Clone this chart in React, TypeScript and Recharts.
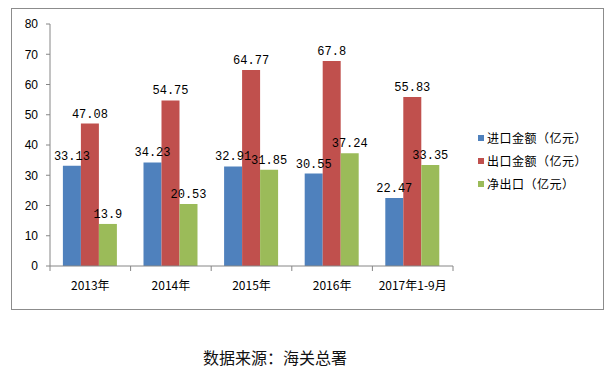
import { Bar, BarChart, LabelList, XAxis, YAxis } from "recharts";

const categories = ["2013年", "2014年", "2015年", "2016年", "2017年1-9月"];
const importValues = [33.13, 34.23, 32.91, 30.55, 22.47];
const exportValues = [47.08, 54.75, 64.77, 67.8, 55.83];
const netValues = [13.9, 20.53, 31.85, 37.24, 33.35];
const yTicks = [0, 10, 20, 30, 40, 50, 60, 70, 80];

const SERIES = [
  { key: "imp", label: "进口金额（亿元）", fill: "#4F81BD" },
  { key: "exp", label: "出口金额（亿元）", fill: "#C0504D" },
  { key: "net", label: "净出口（亿元）", fill: "#9BBB59" },
];

const AXIS = "#868686";
const MONO = "'Liberation Mono', 'DejaVu Sans Mono', monospace";
const CJK = "'Noto Sans CJK SC', 'Noto Sans', sans-serif";

// category label plus the tick marks on the category boundaries (Excel style)
function CategoryTick(props: any) {
  const { x, y, payload, index, visibleTicksCount } = props;
  const half = payload?.offset || 40.3;
  const last = index === (visibleTicksCount ?? categories.length) - 1;
  return (
    <g>
      <line x1={x - half} y1={y} x2={x - half} y2={y + 5} stroke={AXIS} />
      {last && <line x1={x + half} y1={y} x2={x + half} y2={y + 5} stroke={AXIS} />}
      <text x={x} y={y + 24} textAnchor="middle" fontSize={12} fill="#000" fontFamily={CJK}>
        {payload.value}
      </text>
    </g>
  );
}

export default function App() {
  const data = categories.map((name, i) => ({
    name,
    imp: importValues[i],
    exp: exportValues[i],
    net: netValues[i],
  }));

  return (
    <div style={{ position: "absolute", left: 0, top: 0, width: 615, height: 373, background: "#fff" }}>
      <div
        style={{
          position: "absolute",
          left: 11,
          top: 8,
          width: 591,
          height: 300,
          border: "1px solid #8c8c8c",
        }}
      />
      <div style={{ position: "absolute", left: 0, top: 0 }}>
        <BarChart
          width={615}
          height={373}
          data={data}
          margin={{ top: 24, right: 162, left: 10, bottom: 77 }}
          barGap={0}
          barCategoryGap="16%"
        >
          <XAxis
            dataKey="name"
            tickLine={false}
            tickSize={0}
            tickMargin={0}
            axisLine={{ stroke: AXIS }}
            tick={<CategoryTick />}
            height={30}
            interval={0}
          />
          <YAxis
            domain={[0, 80]}
            ticks={yTicks}
            width={40}
            axisLine={{ stroke: AXIS }}
            tickLine={{ stroke: AXIS }}
            tickSize={4}
            tickMargin={8}
            tick={{ fontSize: 12, fill: "#000", fontFamily: "'Liberation Sans', sans-serif" }}
            interval={0}
          />
          {SERIES.map((s) => (
            <Bar key={s.key} dataKey={s.key} name={s.label} fill={s.fill} isAnimationActive={false}>
              <LabelList
                dataKey={s.key}
                position="top"
                offset={6}
                style={{ fontSize: 12, fill: "#000", fontFamily: MONO }}
              />
            </Bar>
          ))}
        </BarChart>
      </div>
      <div
        style={{
          position: "absolute",
          left: 478,
          top: 126,
          fontFamily: CJK,
          fontSize: 12,
          letterSpacing: 0.5,
          color: "#000",
        }}
      >
        {SERIES.map((s) => (
          <div key={s.key} style={{ height: 23, display: "flex", alignItems: "center" }}>
            <span style={{ display: "inline-block", width: 6, height: 6, background: s.fill, marginRight: 3 }} />
            {s.label}
          </div>
        ))}
      </div>
      <div
        style={{
          position: "absolute",
          left: 0,
          width: 550,
          top: 345,
          textAlign: "center",
          fontSize: 16,
          color: "#111",
          fontFamily: CJK,
        }}
      >
        数据来源：海关总署
      </div>
    </div>
  );
}
